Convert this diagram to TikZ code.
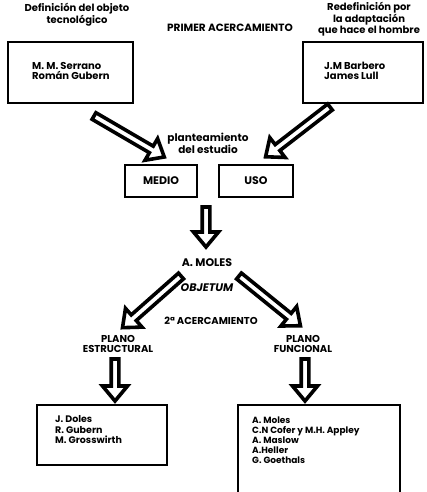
\documentclass[tikz,border=0pt]{standalone}
\usepackage{fontspec}
\setmainfont{Poppins}
\usetikzlibrary{calc}
\tikzset{
  box/.style={draw, line width=2.8pt, inner sep=0pt},
  fat/.style={draw, line width=3.6pt, fill=white, line join=miter, miter limit=8},
  lbl/.style={font=\fontsize{10}{9.5}\selectfont\bfseries, align=center, inner sep=0pt},
  caps/.style={font=\fontsize{10}{10}\selectfont\bfseries, align=center, inner sep=0pt},
  boxtext/.style={font=\fontsize{9.5}{10.5}\selectfont\bfseries, align=left, inner sep=0pt, anchor=west},
}
% hollow block arrow from #1 to #2
\newcommand\fatarrow[2]{%
  \draw[fat] let \p1=($(#2)-(#1)$), \n1={atan2(\y1,\x1)}, \n2={veclen(\x1,\y1)} in
    [shift={(#1)}, rotate=\n1]
    (0,-3.8) -- (\n2-17,-3.8) -- (\n2-17,-12.5) -- (\n2-2,0) -- (\n2-17,12.5)
    -- (\n2-17,3.8) -- (0,3.8) -- cycle;}

\begin{document}
\begin{tikzpicture}[x=1pt,y=-1pt]
\useasboundingbox (0,0) rectangle (427,492);
\clip (0,0) rectangle (427,492);

% headings
\node[lbl] (defl) at (77,15) {Definición del objeto\\tecnológico};
\node[caps, font=\fontsize{10.5}{11}\selectfont\bfseries] (primer) at (230,28) {PRIMER ACERCAMIENTO};
\node[lbl] (redef) at (369,19) {Redefinición por\\la adaptación\\que hace el hombre};

% first level boxes
\node[box, minimum width=125pt, minimum height=61pt] (serrano) at (70.5,72.5) {};
\node[boxtext, font=\fontsize{10}{10.5}\selectfont\bfseries] (serranotxt) at (32,71)
  {M. M. Serrano\\Román Gubern};
\node[box, minimum width=120pt, minimum height=61pt] (barbero) at (363,72.5) {};
\node[boxtext, font=\fontsize{10}{10.5}\selectfont\bfseries] (barberotxt) at (324,71)
  {J.M Barbero\\James Lull};

\node[lbl, font=\fontsize{10.5}{12}\selectfont\bfseries] (plant) at (208,143) {planteamiento\\del estudio};

\node[box, caps, font=\fontsize{11}{11}\selectfont\bfseries, minimum width=72pt, minimum height=32pt] (medio) at (161,181) {MEDIO};
\node[box, caps, font=\fontsize{11}{11}\selectfont\bfseries, minimum width=74pt, minimum height=32pt] (uso) at (256,181) {USO};

\node[caps, font=\fontsize{11}{11}\selectfont\bfseries] (moles) at (207,263) {A. MOLES};
\node[caps, font=\fontsize{11}{11}\selectfont\bfseries\itshape] (objetum) at (207,288) {OBJETUM};
\node[caps] (acerc) at (211,321) {2ª ACERCAMIENTO};

\node[caps] (estr) at (118,344) {PLANO\\ESTRUCTURAL};
\node[caps] (func) at (303,344) {PLANO\\FUNCIONAL};

% second level boxes
\node[box, minimum width=130pt, minimum height=60pt] (doles) at (102,435) {};
\node[boxtext] (dolestxt) at (55,430) {J. Doles\\R. Gubern\\M. Grosswirth};
\node[box, minimum width=162pt, minimum height=104pt] (funcbox) at (319,457) {};
\node[boxtext, font=\fontsize{9}{10}\selectfont\bfseries] (funclist) at (252,440)
  {A. Moles\\C.N Cofer y M.H. Appley\\A. Maslow\\A.Heller\\G. Goethals};

% arrow end points
\coordinate (a1s) at (94,116);  \coordinate (a1e) at (166,158);
\coordinate (a2s) at (330,107); \coordinate (a2e) at (264,158);
\coordinate (a3s) at (206,207); \coordinate (a3e) at (206,249);
\coordinate (a4s) at (181,276); \coordinate (a4e) at (121,329);
\coordinate (a5s) at (239,276); \coordinate (a5e) at (302,327);
\coordinate (a6s) at (115,359); \coordinate (a6e) at (115,403);
\coordinate (a7s) at (305,359); \coordinate (a7e) at (305,403);

\fatarrow{a1s}{a1e}
\fatarrow{a2s}{a2e}
\fatarrow{a3s}{a3e}
\fatarrow{a4s}{a4e}
\fatarrow{a5s}{a5e}
\fatarrow{a6s}{a6e}
\fatarrow{a7s}{a7e}
\end{tikzpicture}
\end{document}
